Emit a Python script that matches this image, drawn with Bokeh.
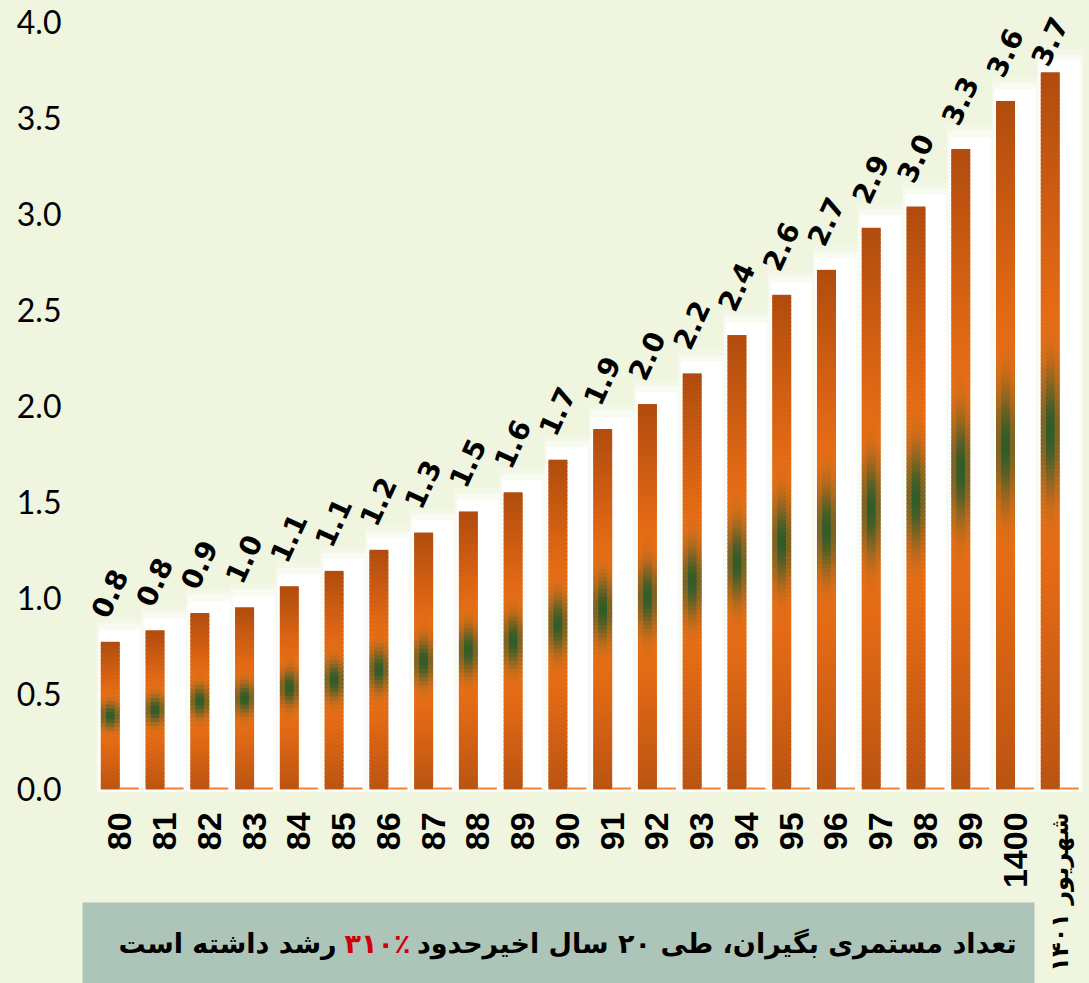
import math
import numpy as np
from bokeh.plotting import figure
from bokeh.models import FixedTicker, BoxAnnotation, Label, NumeralTickFormatter, ColumnDataSource
from bokeh.core.properties import value
from bokeh.embed import file_html
from bokeh.resources import INLINE

# ---------------- data ----------------
categories = ["80", "81", "82", "83", "84", "85", "86", "87", "88", "89", "90",
              "91", "92", "93", "94", "95", "96", "97", "98", "99", "1400",
              "شهریور ۱۴۰۱"]
pensioners = [0.77, 0.83, 0.92, 0.95, 1.06, 1.14, 1.25, 1.34, 1.45, 1.55, 1.72,
              1.88, 2.01, 2.17, 2.37, 2.58, 2.71, 2.93, 3.04, 3.34, 3.59, 3.74]
value_labels = ["0.8", "0.8", "0.9", "1.0", "1.1", "1.1", "1.2", "1.3", "1.5", "1.6", "1.7",
                "1.9", "2.0", "2.2", "2.4", "2.6", "2.7", "2.9", "3.0", "3.3", "3.6", "3.7"]
second_series = [0.01, 0.01, 0.01, 0.01, 0.01, 0.01, 0.01, 0.01, 0.01, 0.01, 0.01,
                 0.01, 0.01, 0.01, 0.01, 0.01, 0.01, 0.01, 0.01, 0.01, 0.01, 0.01]
y_ticks = [0.0, 0.5, 1.0, 1.5, 2.0, 2.5, 3.0, 3.5, 4.0]
caption_right = "تعداد مستمری بگیران، طی ۲۰ سال اخیرحدود"
caption_red = "۳۱۰٪"
caption_left = "رشد داشته است"

# ---------------- style ----------------
BG = "#EFF5DF"
BOX = "#ADC4B8"
FONT = "DejaVu Sans"
PX = 1 / 191.75  # data units per vertical pixel
CAT_PX = 44.76   # pixels per category
C0 = 119.3       # page x of first category centre

n = len(categories)
c = np.arange(n, dtype=float)
v = np.array(pensioners)


def xdata(px):
    return (px - C0) / CAT_PX


p = figure(width=1089, height=983,
           x_range=(-0.878, n - 0.336), y_range=(-1.012, 4.1147),
           x_axis_location=None, y_axis_location="left",
           output_backend="svg", toolbar_location=None,
           min_border_left=80, min_border_right=0, min_border_top=0, min_border_bottom=0,
           background_fill_color=BG, border_fill_color=BG, outline_line_color=None)
p.xgrid.visible = False
p.ygrid.visible = False

ax = p.yaxis[0]
ax.ticker = FixedTicker(ticks=y_ticks)
ax.formatter = NumeralTickFormatter(format="0.0")
ax.axis_line_color = None
ax.major_tick_line_color = None
ax.minor_tick_line_color = None
ax.major_tick_in = 0
ax.major_tick_out = 0
ax.major_label_standoff = 19
ax.major_label_text_font = "Lato"
ax.major_label_text_font_size = "32px"
ax.major_label_text_color = "black"

# white glow behind each group
for w, dt, a in [(1.06, 0.125, 0.22), (1.0, 0.095, 0.45), (0.92, 0.063, 1.0)]:
    p.vbar(x=c, width=w, top=v + dt, bottom=-0.012, fill_color="white",
           fill_alpha=a, line_color=None)

# gradient bars
bar_w = 0.425
bar_x = c - bar_w / 2
s2_x = c + bar_w / 2

dark_top = np.array([176, 76, 14])
dark_bot = np.array([186, 84, 18])
bright = np.array([238, 112, 22])
green = np.array([50, 92, 42])


def shade(t, g):
    if t >= 0.5:
        f = min(max((t - 0.62) / 0.38, 0), 1)
        o = bright * (1 - f) + dark_top * f
    else:
        f = min(max((0.38 - t) / 0.38, 0), 1)
        o = bright * (1 - f) + dark_bot * f
    wgt = g * math.exp(-0.5 * ((t - 0.5) / 0.06) ** 2)
    col = o * (1 - wgt) + green * wgt
    return "#%02x%02x%02x" % tuple(int(round(x)) for x in col)


xs, bots, tops, cols = [], [], [], []
ixs, ibots, itops, icols = [], [], [], []
for i in range(n):
    N = max(40, int(v[i] / PX / 4))
    for k in range(N):
        t0, t1 = k / N, (k + 1) / N
        tm = (t0 + t1) / 2
        top = min(v[i] * t1 + 1.2 * PX, v[i])  # slight overlap hides seams
        xs.append(bar_x[i]); bots.append(v[i] * t0); tops.append(top)
        cols.append(shade(tm, 0.6))
        if 0.28 <= tm <= 0.72:
            ixs.append(bar_x[i]); ibots.append(v[i] * t0); itops.append(top)
            icols.append(shade(tm, 1.0))

p.vbar(x=xs, width=bar_w, bottom=bots, top=tops, fill_color=cols, line_color=None)
p.vbar(x=ixs, width=bar_w * 0.45, bottom=ibots, top=itops, fill_color=icols,
       line_color=None)

# second (near-zero) series
p.vbar(x=s2_x, width=bar_w, top=second_series, bottom=0,
       fill_color="#F08030", line_color=None)

# value labels
label_y = np.minimum(v + 26 * PX, 3.785)
p.text(x=c - 0.47, y=label_y, text=value_labels, angle=65, angle_units="deg",
       text_align="left", text_baseline="alphabetic",
       text_font=value(FONT), text_font_style="bold", text_font_size="28px",
       text_color="black")

# category labels (rotated)
is_persian = [any("\u0600" <= ch <= "\u06ff" for ch in s) for s in categories]
cat_src = ColumnDataSource(dict(
    x=c, y=np.full(n, -23 * PX), text=categories,
    font=["DejaVu Sans" if f else "'Liberation Sans Narrow', 'Liberation Sans'" for f in is_persian],
    size=["24px" if f else "34px" for f in is_persian]))
p.text(x="x", y="y", text="text", source=cat_src, angle=90, angle_units="deg",
       text_align="right", text_baseline="middle",
       text_font="font", text_font_style="bold", text_font_size="size",
       text_color="black")

# caption box
box = BoxAnnotation(left=xdata(82), right=xdata(1034), top=-113 * PX, bottom=-1.2,
                    fill_color=BOX, fill_alpha=1.0, line_color=None)
p.add_layout(box)
for txt, xx, al, colr in [(caption_right, xdata(1016), "right", "black"),
                          (caption_red, xdata(377), "center", "#D0000A"),
                          (caption_left, xdata(336), "right", "black")]:
    p.add_layout(Label(x=xx, y=-154 * PX, text=txt, text_align=al,
                       text_baseline="alphabetic", text_font=FONT,
                       text_font_style="bold", text_font_size="27px",
                       text_color=colr))

html = file_html(p, INLINE)
html = html.replace("</head>", "<style>body{background:%s;}</style></head>" % BG)
open("out.html", "w").write(html)
